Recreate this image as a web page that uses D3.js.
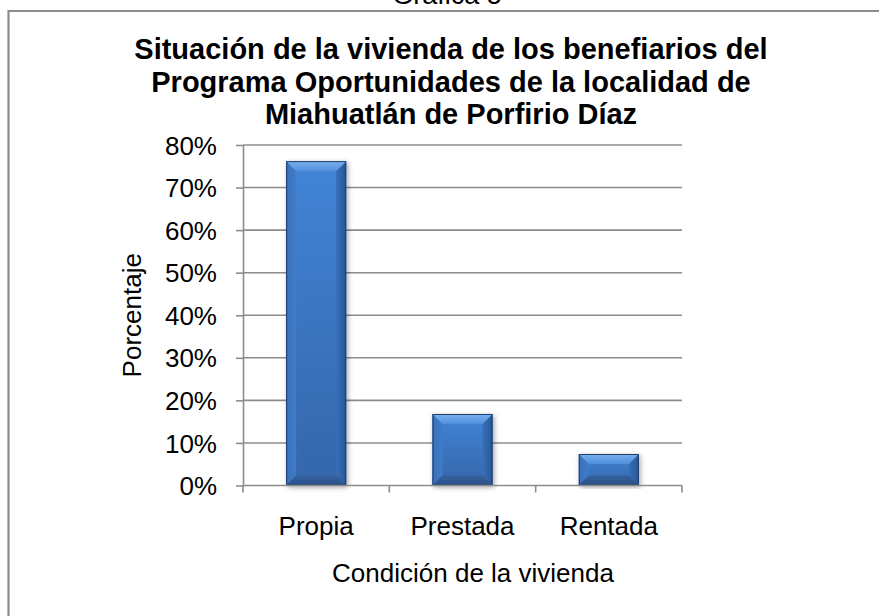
<!DOCTYPE html>
<html lang="es">
  <head>
    <meta charset="utf-8" />
    <script src="https://d3js.org/d3.v7.min.js"></script>
    <style>
      body {
        margin: 0;
        background: #fff;
      }
      svg text {
        font-family: Arial, "Liberation Sans", sans-serif;
        fill: #000;
      }
      .grid line {
        stroke: #8c8c8c;
        stroke-width: 1.6px;
      }
      .axis path,
      .axis line {
        stroke: #8c8c8c;
        stroke-width: 1.6px;
      }
    </style>
  </head>
  <body>
    <svg width="879" height="616"></svg>
    <script>
      var categories = ["Propia", "Prestada", "Rentada"];
      var values = [0.762, 0.168, 0.074];
      var yTicks = [0, 0.1, 0.2, 0.3, 0.4, 0.5, 0.6, 0.7, 0.8];
      var titleLines = [
        "Situación de la vivienda de los benefiarios del",
        "Programa Oportunidades de la localidad de",
        "Miahuatlán de Porfirio Díaz"
      ];

      var svg = d3.select("svg");
      var defs = svg.append("defs");

      var plotLeft = 243,
        plotRight = 682,
        plotTop = 145,
        plotBottom = 485.5;

      // gradients for the bevelled bars
      function grad(id, x2, y2, stops) {
        var g = defs
          .append("linearGradient")
          .attr("id", id)
          .attr("x1", 0)
          .attr("y1", 0)
          .attr("x2", x2)
          .attr("y2", y2);
        stops.forEach(function(s) {
          g.append("stop")
            .attr("offset", s[0])
            .attr("stop-color", s[1]);
        });
      }
      grad("face", 0, 1, [[0, "#4184d6"], [1, "#3566aa"]]);
      grad("bevTop", 0, 1, [[0, "#7ab2ef"], [1, "#4f8fdc"]]);
      grad("bevLeft", 1, 0, [[0, "#3a70b8"], [1, "#3f7cc9"]]);
      grad("bevRight", 1, 0, [[0, "#3670bb"], [1, "#2a5592"]]);
      grad("bevBottom", 0, 1, [[0, "#34639f"], [1, "#2a4f86"]]);

      var shadow = defs
        .append("filter")
        .attr("id", "shadow")
        .attr("x", "-30%")
        .attr("y", "-10%")
        .attr("width", "160%")
        .attr("height", "120%");
      shadow
        .append("feDropShadow")
        .attr("dx", 1.5)
        .attr("dy", 1.5)
        .attr("stdDeviation", 2.5)
        .attr("flood-color", "#000")
        .attr("flood-opacity", 0.35);

      // outer frame (cut by the page edges)
      svg
        .append("path")
        .attr("d", "M8.5,700V11H900")
        .attr("fill", "none")
        .attr("stroke", "#8c8c8c")
        .attr("stroke-width", 2.2);

      svg
        .append("text")
        .attr("x", 447)
        .attr("y", 4)
        .attr("text-anchor", "middle")
        .style("font-size", "27px")
        .text("Gráfica 5");

      svg
        .append("g")
        .selectAll("text")
        .data(titleLines)
        .enter()
        .append("text")
        .attr("x", 451)
        .attr("y", function(d, i) {
          return 59 + i * 32.5;
        })
        .attr("text-anchor", "middle")
        .style("font-size", "29px")
        .style("font-weight", "bold")
        .text(function(d) {
          return d;
        });

      var x = d3
        .scaleBand()
        .domain(categories)
        .range([plotLeft, plotRight])
        .paddingInner(0.59)
        .paddingOuter(0.295);

      var y = d3
        .scaleLinear()
        .domain([0, 0.8])
        .range([plotBottom, plotTop]);

      svg
        .append("g")
        .attr("class", "grid")
        .selectAll("line")
        .data(yTicks.slice(1))
        .enter()
        .append("line")
        .attr("x1", plotLeft)
        .attr("x2", plotRight)
        .attr("y1", function(d) {
          return y(d);
        })
        .attr("y2", function(d) {
          return y(d);
        });

      var yAxis = svg
        .append("g")
        .attr("class", "axis")
        .attr("transform", "translate(" + plotLeft + ",0)")
        .call(
          d3
            .axisLeft(y)
            .tickValues(yTicks)
            .tickFormat(d3.format(".0%"))
            .tickSize(7)
            .tickSizeOuter(0)
            .tickPadding(19)
        );
      yAxis
        .selectAll("text")
        .style("font-size", "26px")
        .attr("dy", "0.35em");

      // bars
      var bev = 10;
      var bar = svg
        .append("g")
        .selectAll("g")
        .data(values)
        .enter()
        .append("g")
        .attr("filter", "url(#shadow)");

      function bx(i) {
        return x(categories[i]);
      }
      var bw = x.bandwidth();

      bar
        .append("rect")
        .attr("x", function(d, i) {
          return bx(i);
        })
        .attr("y", function(d) {
          return y(d);
        })
        .attr("width", bw)
        .attr("height", function(d) {
          return y(0) - y(d);
        })
        .attr("fill", "url(#face)");

      bar
        .append("path")
        .attr("fill", "url(#bevLeft)")
        .attr("d", function(d, i) {
          var x0 = bx(i),
            y0 = y(d),
            y1 = y(0);
          return (
            "M" + x0 + "," + y0 + "L" + (x0 + bev) + "," + (y0 + bev) +
            "L" + (x0 + bev) + "," + (y1 - bev) + "L" + x0 + "," + y1 + "Z"
          );
        });

      bar
        .append("path")
        .attr("fill", "url(#bevRight)")
        .attr("d", function(d, i) {
          var x1 = bx(i) + bw,
            y0 = y(d),
            y1 = y(0);
          return (
            "M" + x1 + "," + y0 + "L" + (x1 - bev) + "," + (y0 + bev) +
            "L" + (x1 - bev) + "," + (y1 - bev) + "L" + x1 + "," + y1 + "Z"
          );
        });

      bar
        .append("path")
        .attr("fill", "url(#bevBottom)")
        .attr("d", function(d, i) {
          var x0 = bx(i),
            x1 = x0 + bw,
            y1 = y(0);
          return (
            "M" + x0 + "," + y1 + "L" + (x0 + bev) + "," + (y1 - bev) +
            "L" + (x1 - bev) + "," + (y1 - bev) + "L" + x1 + "," + y1 + "Z"
          );
        });

      bar
        .append("path")
        .attr("fill", "url(#bevTop)")
        .attr("d", function(d, i) {
          var x0 = bx(i),
            x1 = x0 + bw,
            y0 = y(d);
          return (
            "M" + x0 + "," + y0 + "L" + x1 + "," + y0 +
            "L" + (x1 - bev) + "," + (y0 + bev) + "L" + (x0 + bev) + "," + (y0 + bev) + "Z"
          );
        });

      bar
        .append("rect")
        .attr("x", function(d, i) {
          return bx(i) + 0.5;
        })
        .attr("y", function(d) {
          return y(d) + 0.5;
        })
        .attr("width", bw - 1)
        .attr("height", function(d) {
          return y(0) - y(d) - 1;
        })
        .attr("fill", "none")
        .attr("stroke", "#1f3d6c")
        .attr("stroke-width", 1);

      // x axis with ticks at band edges
      var xAxis = svg.append("g").attr("class", "axis");
      xAxis
        .append("line")
        .attr("x1", plotLeft)
        .attr("x2", plotRight)
        .attr("y1", y(0))
        .attr("y2", y(0));
      var edges = categories.map(function(c) {
        return x(c) - x.step() * x.paddingInner() / 2;
      });
      edges[0] = plotLeft;
      edges.push(plotRight);
      xAxis
        .selectAll(".xt")
        .data(edges)
        .enter()
        .append("line")
        .attr("class", "xt")
        .attr("x1", function(d) {
          return d;
        })
        .attr("x2", function(d) {
          return d;
        })
        .attr("y1", y(0))
        .attr("y2", y(0) + 7);

      svg
        .append("g")
        .selectAll("text")
        .data(categories)
        .enter()
        .append("text")
        .attr("x", function(d) {
          return x(d) + bw / 2;
        })
        .attr("y", 535)
        .attr("text-anchor", "middle")
        .style("font-size", "26px")
        .text(function(d) {
          return d;
        });

      svg
        .append("text")
        .attr("x", 473)
        .attr("y", 582)
        .attr("text-anchor", "middle")
        .style("font-size", "26px")
        .text("Condición de la vivienda");

      svg
        .append("text")
        .attr("transform", "translate(141," + (plotTop + plotBottom) / 2 + ") rotate(-90)")
        .attr("text-anchor", "middle")
        .style("font-size", "26px")
        .text("Porcentaje");
    </script>
  </body>
</html>
